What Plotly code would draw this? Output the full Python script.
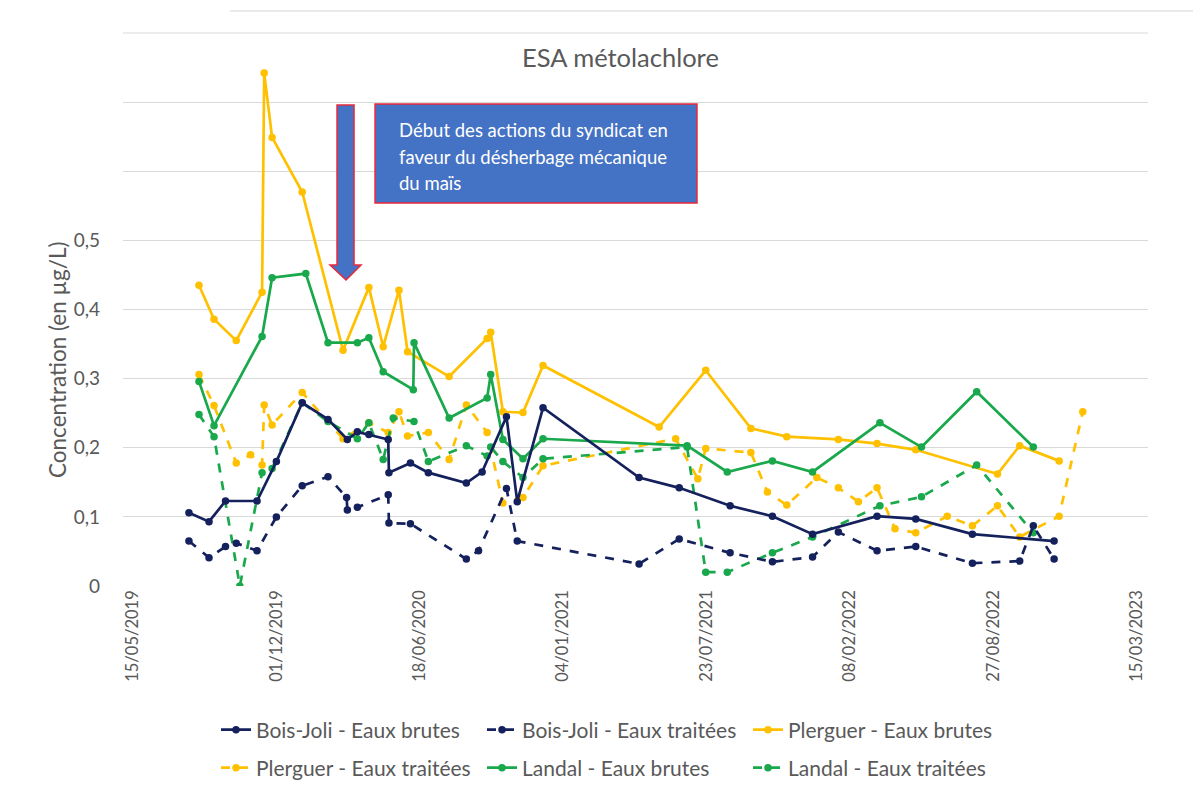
import plotly.graph_objects as go

# ---------------- data ----------------
bj_brutes_dates = ["2019-08-01","2019-08-29","2019-09-21","2019-11-04","2019-12-01","2020-01-06","2020-02-11",
                   "2020-03-09","2020-03-23","2020-04-08","2020-05-05","2020-05-06","2020-06-05","2020-06-30",
                   "2020-08-22","2020-09-13","2020-10-17","2020-11-01","2020-12-07","2021-04-20","2021-06-15",
                   "2021-08-25","2021-10-23","2021-12-18","2022-03-18","2022-05-11","2022-07-29","2022-11-20"]
bj_brutes_vals = [0.106,0.093,0.123,0.123,0.180,0.265,0.241,
                  0.212,0.223,0.219,0.212,0.164,0.178,0.164,
                  0.149,0.165,0.245,0.122,0.258,0.157,0.142,
                  0.116,0.101,0.075,0.101,0.097,0.075,0.065]

bj_traitees_dates = ["2019-08-01","2019-08-29","2019-09-21","2019-10-06","2019-11-04","2019-12-01","2020-01-06",
                     "2020-02-11","2020-03-08","2020-03-09","2020-03-23","2020-05-05","2020-05-06","2020-06-05",
                     "2020-08-22","2020-09-08","2020-10-17","2020-11-01","2021-04-20","2021-06-15","2021-08-25",
                     "2021-10-23","2021-12-18","2022-01-23","2022-03-18","2022-05-11","2022-07-29","2022-10-03",
                     "2022-10-22","2022-11-20"]
bj_traitees_vals = [0.065,0.041,0.057,0.062,0.051,0.100,0.145,
                    0.158,0.128,0.110,0.114,0.132,0.091,0.090,
                    0.039,0.051,0.141,0.065,0.032,0.068,0.048,
                    0.035,0.042,0.078,0.051,0.057,0.033,0.036,
                    0.087,0.039]

pl_brutes_dates = ["2019-08-15","2019-09-05","2019-10-06","2019-11-11","2019-11-14","2019-11-25","2020-01-06",
                   "2020-03-03","2020-04-08","2020-04-28","2020-05-20","2020-06-01","2020-07-29","2020-09-20",
                   "2020-09-25","2020-10-12","2020-11-09","2020-12-07","2021-05-18","2021-07-22","2021-09-23",
                   "2021-11-12","2022-01-23","2022-03-18","2022-05-11","2022-09-02","2022-10-03","2022-11-27"]
pl_brutes_vals = [0.435,0.386,0.355,0.425,0.742,0.649,0.570,
                  0.341,0.432,0.346,0.428,0.339,0.303,0.358,
                  0.367,0.252,0.251,0.319,0.230,0.312,0.228,
                  0.216,0.212,0.206,0.197,0.162,0.203,0.181]

pl_traitees_dates = ["2019-08-15","2019-09-05","2019-10-06","2019-10-26","2019-11-11","2019-11-14","2019-11-25",
                     "2020-01-06","2020-03-03","2020-04-08","2020-05-05","2020-05-20","2020-06-01","2020-06-30",
                     "2020-07-29","2020-08-22","2020-09-20","2020-10-12","2020-11-09","2020-12-07","2021-06-10",
                     "2021-07-11","2021-07-22","2021-09-23","2021-10-16","2021-11-12","2021-12-24","2022-01-23",
                     "2022-02-20","2022-03-18","2022-04-12","2022-05-11","2022-06-24","2022-07-29","2022-09-02",
                     "2022-10-03","2022-11-27","2022-12-30"]
pl_traitees_vals = [0.306,0.261,0.178,0.190,0.175,0.262,0.233,
                    0.280,0.213,0.236,0.222,0.252,0.217,0.222,
                    0.183,0.262,0.222,0.120,0.128,0.174,0.213,
                    0.155,0.199,0.193,0.136,0.117,0.157,0.142,
                    0.122,0.142,0.083,0.077,0.101,0.087,0.116,
                    0.071,0.101,0.252]

la_brutes_dates = ["2019-08-15","2019-09-05","2019-11-11","2019-11-25","2020-01-11","2020-02-11","2020-03-23",
                   "2020-04-08","2020-04-28","2020-06-09","2020-06-10","2020-07-29","2020-09-20","2020-09-25",
                   "2020-10-12","2020-11-09","2020-12-07","2021-06-26","2021-08-21","2021-10-23","2021-12-18",
                   "2022-03-22","2022-05-19","2022-08-04","2022-10-22"]
la_brutes_vals = [0.296,0.232,0.361,0.446,0.452,0.352,0.352,
                  0.359,0.310,0.284,0.352,0.243,0.272,0.306,
                  0.212,0.184,0.213,0.203,0.165,0.181,0.165,
                  0.236,0.201,0.281,0.201]

la_traitees_dates = ["2019-08-15","2019-09-05","2019-10-11","2019-11-11","2019-11-25","2020-01-06","2020-02-11",
                     "2020-03-23","2020-04-08","2020-04-28","2020-05-12","2020-06-10","2020-06-30","2020-08-22",
                     "2020-09-20","2020-09-25","2020-10-12","2020-11-09","2020-12-07","2021-06-26","2021-07-22",
                     "2021-08-21","2021-10-23","2021-12-18","2022-03-22","2022-05-19","2022-08-04","2022-10-22"]
la_traitees_vals = [0.248,0.216,0.000,0.164,0.170,0.265,0.238,
                    0.213,0.236,0.183,0.243,0.238,0.180,0.203,
                    0.188,0.201,0.180,0.157,0.184,0.201,0.020,
                    0.020,0.048,0.071,0.116,0.129,0.175,0.077]

x_tick_vals = ["2019-05-15","2019-12-01","2020-06-18","2021-01-04","2021-07-23","2022-02-08","2022-08-27","2023-03-15"]
x_tick_text = ["15/05/2019","01/12/2019","18/06/2020","04/01/2021","23/07/2021","08/02/2022","27/08/2022","15/03/2023"]
y_tick_vals = [0, 0.1, 0.2, 0.3, 0.4, 0.5, 0.6, 0.7, 0.8]
y_tick_text = ["0", "0,1", "0,2", "0,3", "0,4", "0,5", "", "", ""]

# ---------------- style ----------------
NAVY = "#14215C"
GOLD = "#FFC000"
GREEN = "#19A84B"
GREY = "#595959"
FONT = "Lato"

series = [
    ("Bois-Joli - Eaux brutes", bj_brutes_dates, bj_brutes_vals, NAVY, "solid", "legend"),
    ("Bois-Joli - Eaux traitées", bj_traitees_dates, bj_traitees_vals, NAVY, "dash", "legend"),
    ("Plerguer - Eaux brutes", pl_brutes_dates, pl_brutes_vals, GOLD, "solid", "legend"),
    ("Plerguer - Eaux traitées", pl_traitees_dates, pl_traitees_vals, GOLD, "dash", "legend2"),
    ("Landal - Eaux brutes", la_brutes_dates, la_brutes_vals, GREEN, "solid", "legend2"),
    ("Landal - Eaux traitées", la_traitees_dates, la_traitees_vals, GREEN, "dash", "legend2"),
]

draw_order = [2, 3, 4, 5, 1, 0]

fig = go.Figure()
for i in draw_order:
    name, xs, ys, col, dash, lg = series[i]
    fig.add_trace(go.Scatter(
        x=xs, y=ys, name=name, mode="lines+markers",
        line=dict(color=col, width=2.7, dash=dash),
        marker=dict(color=col, size=7.5),
        legend=lg, legendrank=i + 1,
    ))

# page body has an 8px offset; margins compensate so the plot area lands at 123..1148 x 33..586
LEG_X = (216 - 123) / 1025
fig.update_layout(
    width=1201, height=789,
    margin=dict(l=115, r=61, t=25, b=211, autoexpand=False),
    paper_bgcolor="white", plot_bgcolor="white",
    font=dict(family=FONT, color=GREY, size=15),
    showlegend=True,
    legend=dict(orientation="h", x=LEG_X, xanchor="left", y=(586 - 730) / 553, yanchor="middle",
                entrywidth=221, entrywidthmode="pixels", font=dict(size=21, color=GREY),
                traceorder="normal", bgcolor="rgba(0,0,0,0)"),
    legend2=dict(orientation="h", x=LEG_X, xanchor="left", y=(586 - 768) / 553, yanchor="middle",
                 entrywidth=221, entrywidthmode="pixels", font=dict(size=21, color=GREY),
                 traceorder="normal", bgcolor="rgba(0,0,0,0)"),
)

fig.update_xaxes(
    type="date", range=["2019-05-01", "2023-03-31"],
    tickvals=x_tick_vals, ticktext=x_tick_text, tickangle=-90,
    showgrid=False, zeroline=False, showline=False, ticks="",
    tickfont=dict(size=16.5, color=GREY, family=FONT), automargin=False,
)
fig.update_yaxes(
    range=[0, 0.8], tickvals=y_tick_vals, ticktext=y_tick_text,
    showgrid=True, gridcolor="#D9D9D9", gridwidth=1, zeroline=False, showline=False,
    ticks="", ticklabelstandoff=22, automargin=False,
    tickfont=dict(size=19, color=GREY, family=FONT),
)

# top gridline (0.8) which sits on the plot edge
fig.add_shape(type="line", xref="paper", yref="paper", x0=0, x1=1, y0=1, y1=1,
              line=dict(color="#D9D9D9", width=1), layer="below")

# y-axis title
fig.add_annotation(xref="paper", yref="paper", x=(57 - 123) / 1025, y=(586 - 360) / 553,
                   xanchor="center", yanchor="middle",
                   text="Concentration (en µg/L)", textangle=-90, showarrow=False,
                   font=dict(size=22.5, color=GREY, family=FONT))
# chart title
fig.add_annotation(xref="paper", yref="paper", x=(620 - 123) / 1025, y=(586 - 57) / 553,
                   xanchor="center", yanchor="middle",
                   text="ESA métolachlore", showarrow=False,
                   font=dict(size=25.5, color=GREY, family=FONT))

# arrow
fig.add_shape(type="path", xref="paper", yref="paper",
              path="M 0.2088,0.8698 L 0.2254,0.8698 L 0.2254,0.5805 L 0.2322,0.5805 L 0.2176,0.5533 "
                   "L 0.2020,0.5805 L 0.2088,0.5805 Z",
              fillcolor="#4472C4", line=dict(color="#E8283A", width=1.5))
# info box
fig.add_shape(type="rect", xref="paper", yref="paper", x0=0.2459, x1=0.5600, y0=0.6926, y1=0.8716,
              fillcolor="#4472C4", line=dict(color="#E8283A", width=1.5))
box_lines = ["Début des actions du syndicat en", "faveur du désherbage mécanique", "du maïs"]
for k, t in enumerate(box_lines):
    fig.add_annotation(xref="paper", yref="paper", x=(397 - 123) / 1025, y=(586 - 130 - 26.5 * k) / 553,
                       xanchor="left", yanchor="middle", text=t, showarrow=False,
                       font=dict(size=18.5, color="white", family=FONT))

# faint top border line (as in the reference screenshot)
fig.add_shape(type="line", xref="paper", yref="paper", x0=0.1044, x1=1.0517, y0=(586 - 11) / 553,
              y1=(586 - 11) / 553, line=dict(color="#E3E3E3", width=1.5))

fig.write_html("out.html")
